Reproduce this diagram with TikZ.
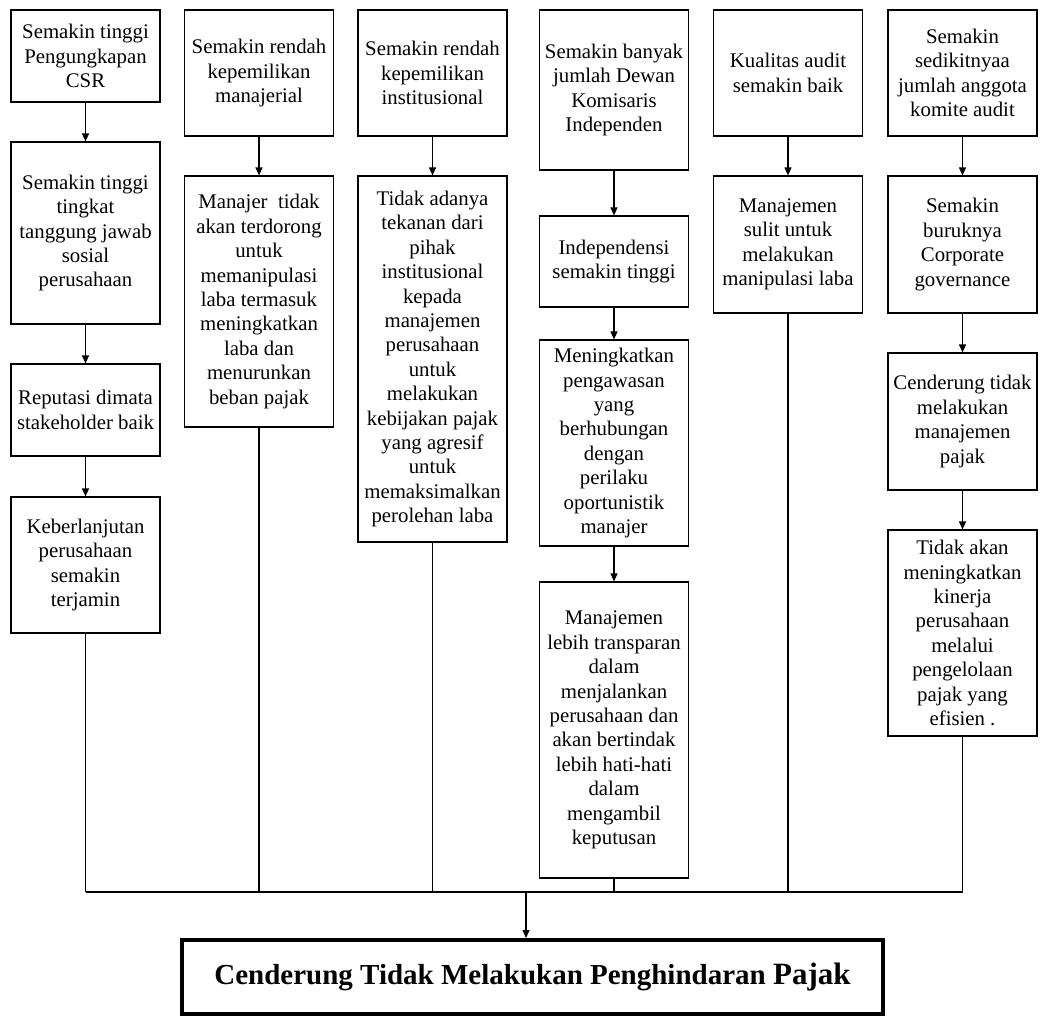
\documentclass[tikz,border=0pt]{standalone}
\usepackage{fontspec}
\setmainfont{Liberation Serif}
\usetikzlibrary{arrows.meta}

\tikzset{
  stepbox/.style={draw,line width=0.6pt,align=center,minimum width=74.5pt,
    inner xsep=1pt,inner ysep=0pt,font=\fontsize{10.4}{12.2}\selectfont},
  conn/.style={line width=0.6pt},
  arr/.style={conn,-{Triangle[length=4pt,width=3.5pt]}},
  goalbox/.style={draw,line width=2pt,minimum width=350.5pt,minimum height=37pt,
    inner sep=0pt,font=\bfseries\fontsize{14.5}{17}\selectfont}
}

\begin{document}
\begin{tikzpicture}[x=0.5pt,y=-0.5pt]
\useasboundingbox (0,0) rectangle (1048,1017);

\node[stepbox,minimum height=46pt] (c1a) at (85.5,56) {Semakin tinggi\\Pengungkapan\\CSR};
\node[stepbox,minimum height=91pt] (c1b) at (85.5,233) {Semakin tinggi\\tingkat\\tanggung jawab\\sosial\\perusahaan};
\node[stepbox,minimum height=46pt] (c1c) at (85.5,410) {Reputasi dimata\\stakeholder baik};
\node[stepbox,minimum height=68pt] (c1d) at (85.5,565) {Keberlanjutan\\perusahaan\\semakin\\terjamin};

\node[stepbox,minimum height=63pt] (c2a) at (259,73) {Semakin rendah\\kepemilikan\\manajerial};
\node[stepbox,minimum height=125.5pt] (c2b) at (259,301.5) {Manajer\ \ tidak\\akan terdorong\\untuk\\memanipulasi\\laba termasuk\\meningkatkan\\laba dan\\menurunkan\\beban pajak};

\node[stepbox,minimum height=63pt] (c3a) at (432.5,73) {Semakin rendah\\kepemilikan\\institusional};
\node[stepbox,minimum height=183pt] (c3b) at (432.5,359) {Tidak adanya\\tekanan dari\\pihak\\institusional\\kepada\\manajemen\\perusahaan\\untuk\\melakukan\\kebijakan pajak\\yang agresif\\untuk\\memaksimalkan\\perolehan laba};

\node[stepbox,minimum height=80pt] (c4a) at (614,90) {Semakin banyak\\jumlah Dewan\\Komisaris\\Independen};
\node[stepbox,minimum height=45.5pt] (c4b) at (614,261.5) {Independensi\\semakin tinggi};
\node[stepbox,minimum height=103pt] (c4c) at (614,443) {Meningkatkan\\pengawasan\\yang\\berhubungan\\dengan\\perilaku\\oportunistik\\manajer};
\node[stepbox,minimum height=148pt] (c4d) at (614,730) {Manajemen\\lebih transparan\\dalam\\menjalankan\\perusahaan dan\\akan bertindak\\lebih hati-hati\\dalam\\mengambil\\keputusan};

\node[stepbox,minimum height=63pt] (c5a) at (788,73) {Kualitas audit\\semakin baik};
\node[stepbox,minimum height=68.5pt] (c5b) at (788,244.5) {Manajemen\\sulit untuk\\melakukan\\manipulasi laba};

\node[stepbox,minimum height=63pt] (c6a) at (962.5,73) {Semakin\\sedikitnyaa\\jumlah anggota\\komite audit};
\node[stepbox,minimum height=68.5pt] (c6b) at (962.5,244.5) {Semakin\\buruknya\\Corporate\\governance};
\node[stepbox,minimum height=68.5pt] (c6c) at (962.5,421.5) {Cenderung tidak\\melakukan\\manajemen\\pajak};
\node[stepbox,minimum height=103pt] (c6d) at (962.5,633) {Tidak akan\\meningkatkan\\kinerja\\perusahaan\\melalui\\pengelolaan\\pajak yang\\efisien .};

\node[goalbox] (goal) at (532.5,977) {Cenderung Tidak Melakukan Penghindaran {\fontsize{15.5}{17}\selectfont Pajak}};

\coordinate (busL) at (85.5,892);
\coordinate (busR) at (962.5,892);
\coordinate (bus) at (526,892);

\foreach \a/\b in {c1a/c1b,c1b/c1c,c1c/c1d,c2a/c2b,c3a/c3b,c4a/c4b,c4b/c4c,c4c/c4d,c5a/c5b,c6a/c6b,c6b/c6c,c6c/c6d}
  \draw[arr] (\a) -- (\b);
\foreach \n in {c1d,c2b,c3b,c4d,c5b,c6d}
  \draw[conn] (\n.south) -- (\n.south |- busL);
\draw[conn] (busL) -- (busR);
\draw[arr] (bus) -- (bus |- goal.north);
\end{tikzpicture}
\end{document}
